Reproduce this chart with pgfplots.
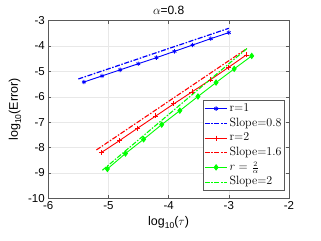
\documentclass[border=0pt]{standalone}
\usepackage{pgfplots}
\pgfplotsset{compat=1.18}
\usepackage{fontspec}
\newfontfamily\arial{Liberation Sans}
\definecolor{mblue}{rgb}{0,0,1}
\definecolor{mred}{rgb}{1,0,0}
\definecolor{mgreen}{rgb}{0,1,0}
\begin{document}
\begin{tikzpicture}
\begin{axis}[
  name=ax, scale only axis, width=241pt, height=177.6pt,
  xmin=-6, xmax=-2, ymin=-10, ymax=-3,
  xtick={-6,-5,-4,-3,-2}, ytick={-10,-9,-8,-7,-6,-5,-4,-3},
  xticklabels={-6,-5,-4,-3,-2}, yticklabels={-10,-9,-8,-7,-6,-5,-4,-3},
  ticklabel style={font=\arial\fontsize{11.5}{13}\selectfont},
  tick align=inside, major tick length=3pt,
  tick style={gray!70!black, line width=0.4pt},
  grid=major, grid style={gray!18, line width=0.4pt},
  axis line style={gray!70!black, line width=0.5pt},
  title={\arial $\alpha$=0.8},
  title style={font=\fontsize{12}{14}\selectfont, yshift=-3pt},
  xlabel={\arial log\raisebox{-0.5ex}{\fontsize{8.5}{9}\selectfont 10}($\tau$)},
  ylabel={\arial log\raisebox{-0.5ex}{\fontsize{8.5}{9}\selectfont 10}(Error)},
  label style={font=\fontsize{12.5}{14}\selectfont},
  legend cell align=left,
  legend style={at={(1,0)}, anchor=south east, xshift=-4.7pt, yshift=7.3pt,
    draw=gray!70!black, line width=0.4pt, fill=white,
    font=\fontsize{12}{14}\selectfont, inner sep=1.2pt,
    nodes={inner sep=1.5pt, text height=8.7pt, text depth=3pt}},
  legend image code/.code={\draw[mark repeat=2,mark phase=2,#1] plot coordinates {(0cm,0cm) (0.4cm,0cm) (0.8cm,0cm)};},
]
\addplot[color=mblue, line width=0.9pt, mark=asterisk, mark size=2.2pt, mark options={solid, line width=0.8pt}] coordinates {
(-5.408,-5.42) (-5.107,-5.18) (-4.806,-4.94) (-4.505,-4.70) (-4.204,-4.46) (-3.903,-4.21) (-3.602,-3.96) (-3.301,-3.71) (-3.0,-3.47)};
\addlegendentry{r=1}
\addplot[color=mblue, line width=1.2pt, dash pattern=on 5pt off 1.6pt on 1.5pt off 1.6pt] coordinates {(-5.5,-5.3) (-3.0,-3.3)};
\addlegendentry{Slope=0.8}
\addplot[color=mred, line width=0.9pt, mark=+, mark size=2.5pt, mark options={solid, line width=0.8pt}] coordinates {
(-5.117,-8.20) (-4.816,-7.73) (-4.515,-7.24) (-4.214,-6.76) (-3.913,-6.28) (-3.612,-5.81) (-3.311,-5.34) (-3.010,-4.85) (-2.709,-4.35)};
\addlegendentry{r=2}
\addplot[color=mred, line width=1.1pt, dash pattern=on 5pt off 1.6pt on 1.5pt off 1.6pt] coordinates {(-5.2,-8.1) (-2.7,-4.1)};
\addlegendentry{Slope=1.6}
\addplot[color=mgreen, line width=0.9pt, mark=diamond*, mark size=2.6pt, mark options={solid}] coordinates {
(-5.018,-8.85) (-4.717,-8.24) (-4.416,-7.68) (-4.115,-7.10) (-3.814,-6.55) (-3.513,-5.99) (-3.212,-5.44) (-2.911,-4.90) (-2.620,-4.39)};
\addlegendentry{$r=$ {\fontsize{9.5}{10}\selectfont$\frac{2}{\alpha}$}}
\addplot[color=mgreen, line width=1.1pt, dash pattern=on 5pt off 1.6pt on 1.5pt off 1.6pt] coordinates {(-5.1,-8.9) (-2.7,-4.1)};
\addlegendentry{Slope=2}
\end{axis}
\pgfresetboundingbox
\path[use as bounding box] ([xshift=-48.3pt,yshift=-42.7pt]ax.south west) rectangle ([xshift=32pt,yshift=20.7pt]ax.north east);
\end{tikzpicture}
\end{document}
